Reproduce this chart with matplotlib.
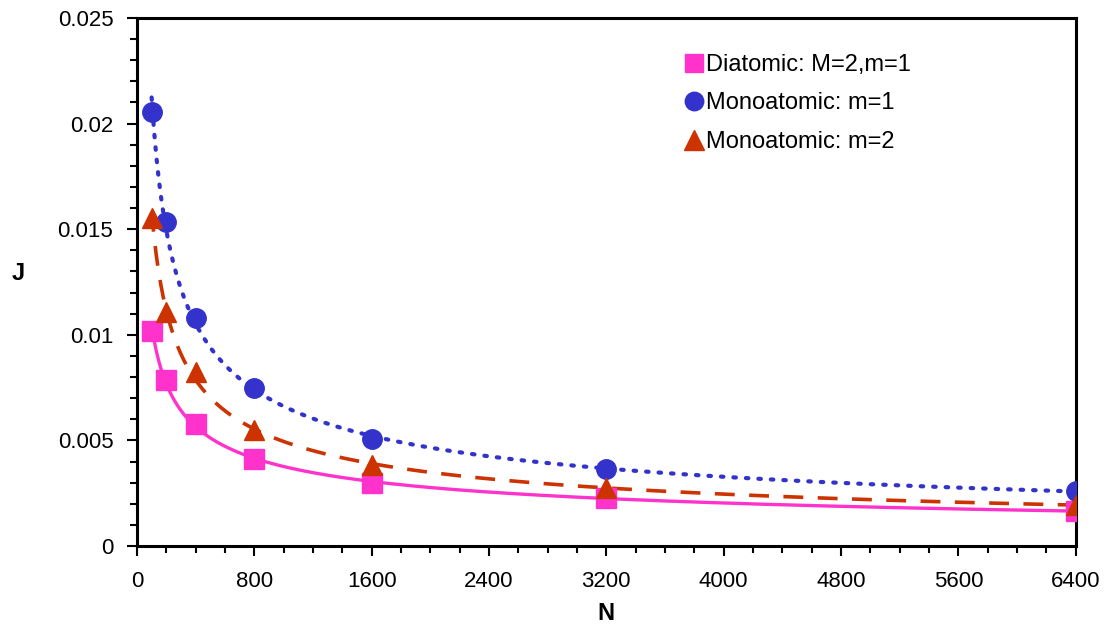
import numpy as np
import matplotlib.pyplot as plt
from matplotlib.ticker import MultipleLocator, FuncFormatter

plt.rcParams['font.family'] = ['Liberation Sans', 'DejaVu Sans']

n_values = [100, 200, 400, 800, 1600, 3200, 6400]
j_diatomic = [0.0102, 0.00786, 0.00578, 0.00412, 0.00298, 0.00227, 0.00166]
j_mono_m1 = [0.02055, 0.01534, 0.0108, 0.00748, 0.00507, 0.00365, 0.0026]
j_mono_m2 = [0.01553, 0.0111, 0.00824, 0.0055, 0.00384, 0.00275, 0.00194]


def power_fit(x, y):
    # trend line J = a * N^b, fitted in log-log space
    b, loga = np.polyfit(np.log(x), np.log(y), 1)
    xs = np.linspace(min(x), max(x), 400)
    return xs, np.exp(loga) * xs ** b


fig = plt.figure(figsize=(11.09, 6.32), dpi=100)
ax = fig.add_axes([0.1235, 0.136, 0.8465, 0.8355])

pink = '#ff33cc'
blue = '#3333cc'
red = '#cc3300'

xs, ys = power_fit(n_values, j_mono_m1)
ax.plot(xs, ys, color=blue, lw=3, ls=(0, (0.6, 2.4)), dash_capstyle='round')
xs, ys = power_fit(n_values, j_mono_m2)
ax.plot(xs, ys, color=red, lw=2.6, ls=(0, (5.5, 4)))
xs, ys = power_fit(n_values, j_diatomic)
ax.plot(xs, ys, color=pink, lw=2.4)

ax.plot(n_values, j_diatomic, 's', color=pink, ms=14, ls='none',
        label='Diatomic: M=2,m=1', zorder=5)
ax.plot(n_values, j_mono_m1, 'o', color=blue, ms=14, ls='none',
        label='Monoatomic: m=1', zorder=5)
ax.plot(n_values, j_mono_m2, '^', color=red, ms=15, ls='none',
        label='Monoatomic: m=2', zorder=5)

ax.set_xlim(0, 6400)
ax.set_ylim(0, 0.025)
ax.xaxis.set_major_locator(MultipleLocator(800))
ax.xaxis.set_minor_locator(MultipleLocator(200))
ax.yaxis.set_major_locator(MultipleLocator(0.005))
ax.yaxis.set_minor_locator(MultipleLocator(0.001))
ax.yaxis.set_major_formatter(FuncFormatter(lambda v, p: '0' if v == 0 else f'{v:g}'))

for s in ax.spines.values():
    s.set_linewidth(2.2)
ax.tick_params(axis='both', which='major', labelsize=16, width=1.5, length=7, direction='out')
ax.tick_params(axis='both', which='minor', width=1.5, length=5, direction='out')
ax.tick_params(axis='x', pad=11)
ax.tick_params(axis='y', pad=10)

ax.set_xlabel('N', fontsize=17, fontweight='bold', labelpad=7)
ax.set_ylabel('J', fontsize=17, fontweight='bold', rotation=0, va='center', ha='center')
ax.yaxis.set_label_coords(-0.127, 0.517)

leg = ax.legend(loc='upper left', bbox_to_anchor=(0.575, 0.95), frameon=False,
                fontsize=17, handlelength=0.7, handletextpad=0.15,
                labelspacing=0.7, markerscale=0.95, borderaxespad=0)

fig.savefig('out.png', dpi=100)
